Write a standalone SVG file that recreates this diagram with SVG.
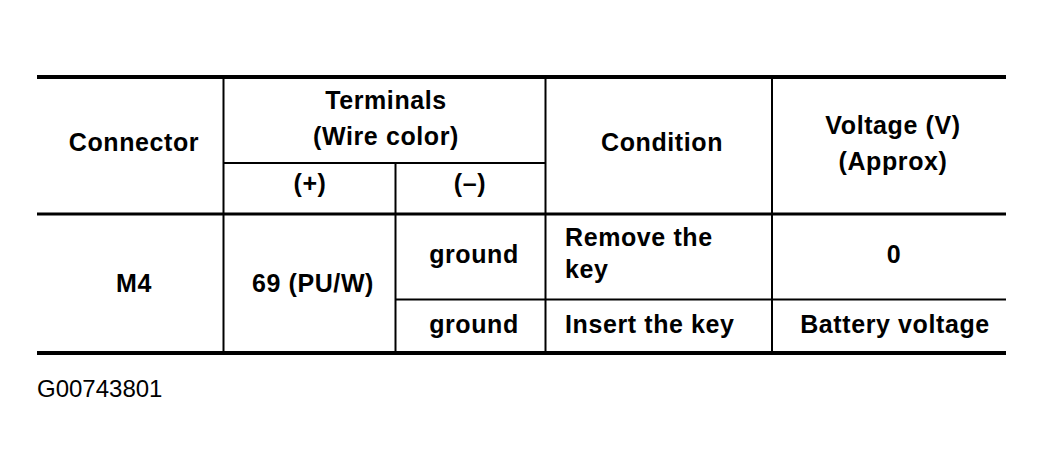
<svg xmlns="http://www.w3.org/2000/svg" width="1044" height="475" viewBox="0 0 1044 475">
<style>
.t{font-family:"Liberation Sans",Arial,Helvetica,sans-serif;font-size:25px;font-weight:bold;letter-spacing:0.6px;fill:#000;text-anchor:middle}
.l{font-family:"Liberation Sans",Arial,Helvetica,sans-serif;font-size:25px;font-weight:bold;letter-spacing:0.6px;fill:#000;text-anchor:start}
.cap{font-family:"Liberation Sans",Arial,Helvetica,sans-serif;font-size:24px;fill:#000}
.thick{stroke:#000;stroke-width:4;fill:none}
.mid{stroke:#000;stroke-width:3;fill:none}
.thin{stroke:#000;stroke-width:2;fill:none}
</style>
<rect width="1044" height="475" fill="#fff"/>
<g id="connectors">
<line class="thick" x1="37" y1="77" x2="1006" y2="77"/>
<line class="mid" x1="37" y1="214" x2="1006" y2="214"/>
<line class="thick" x1="37" y1="353" x2="1006" y2="353"/>
<line class="thin" x1="223" y1="163" x2="545" y2="163"/>
<line class="thin" x1="395" y1="299.5" x2="1006" y2="299.5"/>
<line class="thin" x1="223.5" y1="77" x2="223.5" y2="353"/>
<line class="thin" x1="395.5" y1="163" x2="395.5" y2="353"/>
<line class="thin" x1="545.5" y1="77" x2="545.5" y2="353"/>
<line class="thin" x1="772" y1="77" x2="772" y2="353"/>
</g>
<g id="header-connector"><text class="t" x="134" y="151">Connector</text></g>
<g id="header-terminals">
<text class="t" x="386" y="109">Terminals</text>
<text class="t" x="386" y="145">(Wire color)</text>
</g>
<g id="header-plus"><text class="t" x="310" y="192">(+)</text></g>
<g id="header-minus"><text class="t" x="470" y="192">(–)</text></g>
<g id="header-condition"><text class="t" x="662" y="151">Condition</text></g>
<g id="header-voltage">
<text class="t" x="893" y="134">Voltage (V)</text>
<text class="t" x="893" y="170">(Approx)</text>
</g>
<g id="cell-m4"><text class="t" x="134" y="292">M4</text></g>
<g id="cell-69"><text class="t" x="313" y="292">69 (PU/W)</text></g>
<g id="cell-ground1"><text class="t" x="474" y="263">ground</text></g>
<g id="cell-remove">
<text class="l" x="565" y="246">Remove the</text>
<text class="l" x="565" y="278">key</text>
</g>
<g id="cell-0"><text class="t" x="894" y="263">0</text></g>
<g id="cell-ground2"><text class="t" x="474" y="333">ground</text></g>
<g id="cell-insert"><text class="l" x="565" y="333">Insert the key</text></g>
<g id="cell-battery"><text class="t" x="895" y="333">Battery voltage</text></g>
<g id="caption"><text class="cap" x="37" y="397">G00743801</text></g>
</svg>
